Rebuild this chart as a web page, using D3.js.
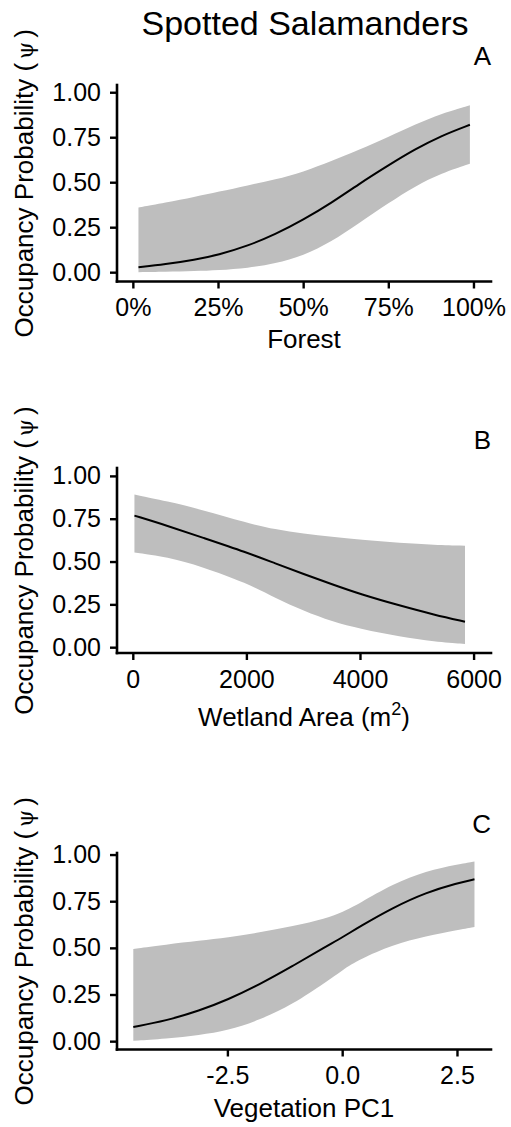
<!DOCTYPE html>
<html>
<head>
<meta charset="utf-8">
<script src="https://cdn.jsdelivr.net/npm/d3@7"></script>
<style>
  body { margin: 0; background: #fff; }
  text { font-family: "Liberation Sans", Arial, sans-serif; fill: #000; }
</style>
</head>
<body>
<script>
// ---- data ----
// panel A: forest cover (%)
var forestX   = [1.5, 9.3, 18.1, 24.9, 33.7, 41.6, 49.9, 58.2, 66.0, 75.0, 82.6, 90.5, 98.8];
var forestFit = [0.030, 0.046, 0.072, 0.098, 0.150, 0.212, 0.294, 0.388, 0.490, 0.598, 0.685, 0.762, 0.822];
var forestLo  = [0.003, 0.005, 0.009, 0.014, 0.026, 0.050, 0.095, 0.172, 0.272, 0.388, 0.480, 0.553, 0.606];
var forestHi  = [0.362, 0.388, 0.422, 0.449, 0.486, 0.517, 0.560, 0.620, 0.680, 0.755, 0.823, 0.885, 0.930];

// panel B: wetland area (m2)
var wetX   = [20, 600, 1200, 2000, 2500, 3000, 3500, 4000, 4700, 5300, 5840];
var wetFit = [0.771, 0.712, 0.645, 0.556, 0.492, 0.430, 0.370, 0.312, 0.245, 0.192, 0.152];
var wetLo  = [0.556, 0.530, 0.474, 0.377, 0.290, 0.215, 0.152, 0.110, 0.064, 0.035, 0.022];
var wetHi  = [0.894, 0.855, 0.806, 0.728, 0.690, 0.665, 0.648, 0.631, 0.611, 0.601, 0.595];

// panel C: vegetation PC1
var vegX   = [-4.56, -3.85, -3.12, -2.5, -1.82, -1.09, -0.36, 0, 0.36, 1.09, 1.82, 2.5, 2.87];
var vegFit = [0.079, 0.112, 0.166, 0.225, 0.305, 0.405, 0.510, 0.560, 0.615, 0.718, 0.800, 0.850, 0.870];
var vegLo  = [0.005, 0.016, 0.035, 0.060, 0.115, 0.200, 0.320, 0.385, 0.440, 0.520, 0.565, 0.598, 0.615];
var vegHi  = [0.497, 0.520, 0.541, 0.558, 0.585, 0.618, 0.660, 0.695, 0.740, 0.845, 0.915, 0.950, 0.966];

var yTicks = [0, 0.25, 0.5, 0.75, 1];
var forestTicks = [0, 25, 50, 75, 100];
var wetTicks = [0, 2000, 4000, 6000];
var vegTicks = [-2.5, 0, 2.5];

var width = 511, height = 1127;
var left = 117, right = 491;

var svg = d3.select("body").append("svg")
    .attr("width", width)
    .attr("height", height);

svg.append("text")
    .attr("x", 305).attr("y", 35)
    .attr("text-anchor", "middle")
    .style("font-size", "34px")
    .text("Spotted Salamanders");

var panels = [
  { letter: "A", xs: forestX, fit: forestFit, lo: forestLo, hi: forestHi,
    xDomain: [-4.8, 105], yDomain: [-0.049, 1.043], top: 85, bottom: 281.5,
    ticks: forestTicks, fmt: function(d) { return d + "%"; },
    title: "Forest", letterY: 65, titleY: 348 },
  { letter: "B", xs: wetX, fit: wetFit, lo: wetLo, hi: wetHi,
    xDomain: [-287, 6298], yDomain: [-0.031, 1.049], top: 468, bottom: 653,
    ticks: wetTicks, fmt: function(d) { return d; },
    title: "Wetland Area (m", sup: "2", letterY: 449, titleY: 726 },
  { letter: "C", xs: vegX, fit: vegFit, lo: vegLo, hi: vegHi,
    xDomain: [-4.915, 3.23], yDomain: [-0.042, 1.011], top: 853, bottom: 1049.5,
    ticks: vegTicks, fmt: function(d) { return d3.format(".1f")(d).replace("\u2212", "-"); },
    title: "Vegetation PC1", letterY: 833, titleY: 1117 }
];

panels.forEach(function(p) {
  var x = d3.scaleLinear().domain(p.xDomain).range([left, right]);
  var y = d3.scaleLinear().domain(p.yDomain).range([p.bottom, p.top]);
  var g = svg.append("g");

  var rows = p.xs.map(function(v, i) {
    return { x: v, fit: p.fit[i], lo: p.lo[i], hi: p.hi[i] };
  });

  // confidence band
  g.append("path")
      .datum(rows)
      .attr("fill", "#bebebe")
      .attr("d", d3.area()
          .curve(d3.curveBasis)
          .x(function(d) { return x(d.x); })
          .y0(function(d) { return y(d.lo); })
          .y1(function(d) { return y(d.hi); }));

  // fitted line
  g.append("path")
      .datum(rows)
      .attr("fill", "none")
      .attr("stroke", "#000")
      .attr("stroke-width", 2)
      .attr("d", d3.line()
          .curve(d3.curveBasis)
          .x(function(d) { return x(d.x); })
          .y(function(d) { return y(d.fit); }));

  var ya = g.append("g")
      .attr("transform", "translate(" + left + ",0)")
      .call(d3.axisLeft(y).tickValues(yTicks).tickFormat(d3.format(".2f"))
            .tickSize(7).tickSizeOuter(0).tickPadding(9).offset(0));
  var xa = g.append("g")
      .attr("transform", "translate(0," + p.bottom + ")")
      .call(d3.axisBottom(x).tickValues(p.ticks).tickFormat(p.fmt)
            .tickSize(7).tickSizeOuter(0).tickPadding(10).offset(0));

  [ya, xa].forEach(function(a) {
    a.select(".domain").attr("stroke-width", 2.6).attr("stroke-linecap", "square");
    a.selectAll(".tick line").attr("stroke-width", 2.4);
    a.selectAll(".tick text").style("font-size", "25px").attr("fill", "#000");
  });

  g.append("text")
      .attr("x", right).attr("y", p.letterY)
      .attr("text-anchor", "end")
      .style("font-size", "26px")
      .text(p.letter);

  var t = g.append("text")
      .attr("x", (left + right) / 2).attr("y", p.titleY)
      .attr("text-anchor", "middle")
      .style("font-size", "26px")
      .text(p.title);
  if (p.sup) {
    t.append("tspan").attr("dy", -11).style("font-size", "18px").text(p.sup);
    t.append("tspan").attr("dy", 11).text(")");
  }

  var yt = g.append("text")
      .attr("transform", "translate(33," + (p.top + p.bottom) / 2 + ") rotate(-90)")
      .attr("text-anchor", "middle")
      .style("font-size", "26px")
      .text("Occupancy Probability (");
  yt.append("tspan").attr("dx", 4).style("font-family", "DejaVu Serif").style("font-size", "22px").text("ψ");
  yt.append("tspan").attr("dx", 4).text(")");
});
</script>
</body>
</html>
